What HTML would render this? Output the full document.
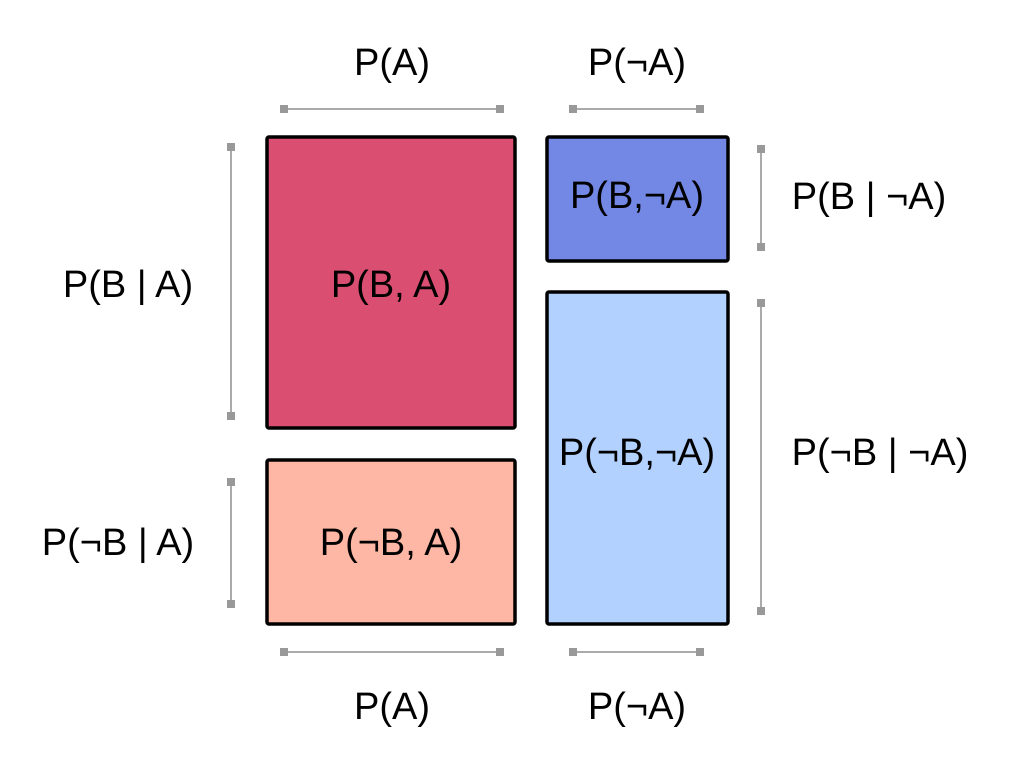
<!DOCTYPE html>
<html><head><style>html,body{margin:0;padding:0;background:#fff}</style></head>
<body>
<svg width="1016" height="765" xmlns="http://www.w3.org/2000/svg" font-family="Liberation Sans, sans-serif" font-size="38" text-anchor="middle">
<g stroke="#000" stroke-width="3.5">
<rect x="267" y="137" width="248" height="291" rx="2" fill="#DA4E72"/>
<rect x="267" y="460" width="248" height="164" rx="2" fill="#FFB7A5"/>
<rect x="547" y="137" width="181" height="124" rx="2" fill="#7387E5"/>
<rect x="547" y="292" width="181" height="332" rx="2" fill="#B3D1FF"/>
</g>
<g stroke="#aaa" stroke-width="2">
<line x1="284" y1="109" x2="500" y2="109"/>
<line x1="573" y1="109" x2="700" y2="109"/>
<line x1="284" y1="652" x2="500" y2="652"/>
<line x1="573" y1="652" x2="700" y2="652"/>
<line x1="231" y1="147" x2="231" y2="416"/>
<line x1="231" y1="482" x2="231" y2="604"/>
<line x1="761" y1="149" x2="761" y2="247"/>
<line x1="761" y1="303" x2="761" y2="611"/>
</g>
<g fill="#999">
<rect x="280" y="105" width="8" height="8"/><rect x="496" y="105" width="8" height="8"/>
<rect x="569" y="105" width="8" height="8"/><rect x="696" y="105" width="8" height="8"/>
<rect x="280" y="648" width="8" height="8"/><rect x="496" y="648" width="8" height="8"/>
<rect x="569" y="648" width="8" height="8"/><rect x="696" y="648" width="8" height="8"/>
<rect x="227" y="143" width="8" height="8"/><rect x="227" y="412" width="8" height="8"/>
<rect x="227" y="478" width="8" height="8"/><rect x="227" y="600" width="8" height="8"/>
<rect x="757" y="145" width="8" height="8"/><rect x="757" y="243" width="8" height="8"/>
<rect x="757" y="299" width="8" height="8"/><rect x="757" y="607" width="8" height="8"/>
</g>
<g fill="#000">
<text x="392" y="75">P(A)</text>
<text x="637" y="75">P(¬A)</text>
<text x="392" y="719">P(A)</text>
<text x="637" y="719">P(¬A)</text>
<text x="391" y="297">P(B, A)</text>
<text x="391" y="555">P(¬B, A)</text>
<text x="637" y="208">P(B,¬A)</text>
<text x="637" y="465">P(¬B,¬A)</text>
<text x="128" y="297">P(B | A)</text>
<text x="118" y="555">P(¬B | A)</text>
<text x="869" y="209">P(B | ¬A)</text>
<text x="880" y="465">P(¬B | ¬A)</text>
</g>
</svg>
</body></html>
